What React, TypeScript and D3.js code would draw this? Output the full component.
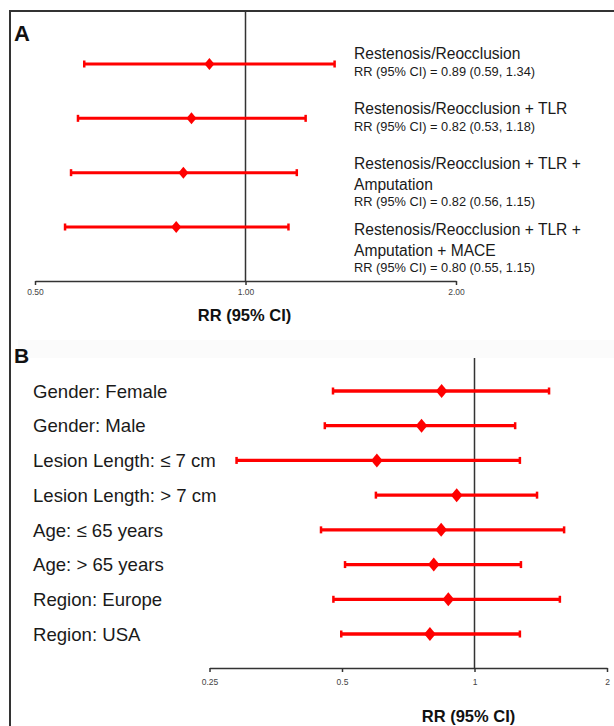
import React, { useEffect, useRef } from "react";
import * as d3 from "d3";

// Panel A: composite outcomes
const outcomeTitles = [
  ["Restenosis/Reocclusion"],
  ["Restenosis/Reocclusion + TLR"],
  ["Restenosis/Reocclusion + TLR +", "Amputation"],
  ["Restenosis/Reocclusion + TLR +", "Amputation + MACE"],
];
const outcomeNotes = [
  "RR (95% CI) = 0.89 (0.59, 1.34)",
  "RR (95% CI) = 0.82 (0.53, 1.18)",
  "RR (95% CI) = 0.82 (0.56, 1.15)",
  "RR (95% CI) = 0.80 (0.55, 1.15)",
];
// values as drawn in the picture
const outcomeEst = [0.888, 0.837, 0.815, 0.796];
const outcomeLo = [0.588, 0.576, 0.563, 0.552];
const outcomeHi = [1.341, 1.219, 1.184, 1.152];
const ticksA = [0.5, 1, 2];
const tickLabelsA = ["0.50", "1.00", "2.00"];

// Panel B: subgroups
const subgroups = [
  "Gender: Female",
  "Gender: Male",
  "Lesion Length: \u2264 7 cm",
  "Lesion Length: > 7 cm",
  "Age: \u2264 65 years",
  "Age: > 65 years",
  "Region: Europe",
  "Region: USA",
];
const subEst = [0.842, 0.758, 0.6, 0.911, 0.84, 0.808, 0.872, 0.792];
const subLo = [0.477, 0.457, 0.288, 0.597, 0.448, 0.508, 0.478, 0.498];
const subHi = [1.477, 1.237, 1.268, 1.387, 1.598, 1.275, 1.563, 1.268];
const ticksB = [0.25, 0.5, 1, 2];
const tickLabelsB = ["0.25", "0.5", "1", "2"];

const RED = "#ff0000";
const INK = "#333";
const FONT = "'Liberation Sans', Arial, sans-serif";

const App: React.FC = () => {
  const ref = useRef<SVGSVGElement>(null);

  useEffect(() => {
    document.body.style.margin = "0";
    const svg = d3.select(ref.current);
    svg.selectAll("*").remove();

    // faint band at the top of panel B
    svg
      .append("rect")
      .attr("x", 18)
      .attr("y", 340)
      .attr("width", 596)
      .attr("height", 18)
      .attr("fill", "#fbfbfb");

    // frame
    svg
      .append("path")
      .attr("d", "M614,11H10V726")
      .attr("fill", "none")
      .attr("stroke", INK)
      .attr("stroke-width", 2);

    // ---------- Panel A ----------
    const xA = d3.scaleLog().base(2).domain([0.5, 2]).range([35, 456]);
    const yA = d3
      .scalePoint<number>()
      .domain(d3.range(outcomeTitles.length))
      .range([64, 227]);
    const axisYA = 281;

    const gA = svg.append("g");
    gA.append("text")
      .attr("x", 14)
      .attr("y", 41)
      .attr("font-family", FONT)
      .attr("font-weight", "bold")
      .attr("font-size", 22)
      .attr("fill", "#111")
      .text("A");

    gA.append("line")
      .attr("x1", xA(1))
      .attr("x2", xA(1))
      .attr("y1", 11)
      .attr("y2", axisYA)
      .attr("stroke", INK)
      .attr("stroke-width", 1.5);

    const axA = gA
      .append("g")
      .attr("transform", `translate(0,${axisYA})`)
      .call(
        d3
          .axisBottom(xA)
          .tickValues(ticksA)
          .tickSize(4)
          .tickSizeOuter(0)
          .tickPadding(4)
          .tickFormat((_, i) => tickLabelsA[i])
      );
    axA.select(".domain").attr("stroke", INK).attr("stroke-width", 1.5);
    axA.selectAll(".tick line").attr("stroke", INK).attr("stroke-width", 1.5);
    axA
      .selectAll(".tick text")
      .attr("font-family", FONT)
      .attr("font-size", 8.5)
      .attr("fill", "#444");

    gA.append("text")
      .attr("x", 244.5)
      .attr("y", 321)
      .attr("text-anchor", "middle")
      .attr("font-family", FONT)
      .attr("font-weight", "bold")
      .attr("font-size", 16.5)
      .attr("fill", "#111")
      .text("RR (95% CI)");

    const rowsA = gA
      .selectAll("g.row")
      .data(outcomeTitles.map((_, i) => i))
      .enter()
      .append("g")
      .attr("class", "row");

    rowsA
      .append("line")
      .attr("x1", (i) => xA(outcomeLo[i]))
      .attr("x2", (i) => xA(outcomeHi[i]))
      .attr("y1", (i) => yA(i)!)
      .attr("y2", (i) => yA(i)!)
      .attr("stroke", RED)
      .attr("stroke-width", 3);
    [outcomeLo, outcomeHi].forEach((arr) => {
      rowsA
        .append("line")
        .attr("x1", (i) => xA(arr[i]))
        .attr("x2", (i) => xA(arr[i]))
        .attr("y1", (i) => yA(i)! - 3.5)
        .attr("y2", (i) => yA(i)! + 3.5)
        .attr("stroke", RED)
        .attr("stroke-width", 2.5);
    });
    rowsA
      .append("path")
      .attr("transform", (i) => `translate(${xA(outcomeEst[i])},${yA(i)})`)
      .attr("d", "M0,-6L5,0L0,6L-5,0Z")
      .attr("fill", RED);

    // text blocks next to each row
    const textStart = [-5, -4.5, -4, 8];
    rowsA.each(function (i) {
      const g = d3.select(this);
      let y = yA(i)! + textStart[i];
      outcomeTitles[i].forEach((t, k) => {
        if (k > 0) y += 21;
        g.append("text")
          .attr("x", 354)
          .attr("y", y)
          .attr("font-family", FONT)
          .attr("font-size", 15.6)
          .attr("fill", "#1a1a1a")
          .text(t);
      });
      g.append("text")
        .attr("x", 354)
        .attr("y", y + (outcomeTitles[i].length > 1 ? 16 : 17))
        .attr("font-family", FONT)
        .attr("font-size", 12.8)
        .attr("fill", "#1a1a1a")
        .text(outcomeNotes[i]);
    });

    // ---------- Panel B ----------
    const xB = d3.scaleLog().base(2).domain([0.25, 2]).range([209.5, 607]);
    const yB = d3
      .scalePoint<number>()
      .domain(d3.range(subgroups.length))
      .range([391, 634]);
    const axisYB = 668;

    const gB = svg.append("g");
    gB.append("text")
      .attr("x", 14)
      .attr("y", 363)
      .attr("font-family", FONT)
      .attr("font-weight", "bold")
      .attr("font-size", 21)
      .attr("fill", "#111")
      .text("B");

    gB.append("line")
      .attr("x1", xB(1))
      .attr("x2", xB(1))
      .attr("y1", 358)
      .attr("y2", axisYB)
      .attr("stroke", INK)
      .attr("stroke-width", 1.5);

    const axB = gB
      .append("g")
      .attr("transform", `translate(0,${axisYB})`)
      .call(
        d3
          .axisBottom(xB)
          .tickValues(ticksB)
          .tickSize(4)
          .tickSizeOuter(0)
          .tickPadding(7)
          .tickFormat((_, i) => tickLabelsB[i])
      );
    axB.select(".domain").attr("stroke", INK).attr("stroke-width", 1.5);
    axB.selectAll(".tick line").attr("stroke", INK).attr("stroke-width", 1.5);
    axB
      .selectAll(".tick text")
      .attr("font-family", FONT)
      .attr("font-size", 8.5)
      .attr("fill", "#444");

    gB.append("text")
      .attr("x", 468.5)
      .attr("y", 722)
      .attr("text-anchor", "middle")
      .attr("font-family", FONT)
      .attr("font-weight", "bold")
      .attr("font-size", 16.5)
      .attr("fill", "#111")
      .text("RR (95% CI)");

    const rowsB = gB
      .selectAll("g.row")
      .data(subgroups.map((_, i) => i))
      .enter()
      .append("g")
      .attr("class", "row");

    rowsB
      .append("text")
      .attr("x", 33)
      .attr("y", (i) => yB(i)!)
      .attr("dy", "0.36em")
      .attr("font-family", FONT)
      .attr("font-size", 18.6)
      .attr("fill", "#1a1a1a")
      .text((i) => subgroups[i]);

    rowsB
      .append("line")
      .attr("x1", (i) => xB(subLo[i]))
      .attr("x2", (i) => xB(subHi[i]))
      .attr("y1", (i) => yB(i)!)
      .attr("y2", (i) => yB(i)!)
      .attr("stroke", RED)
      .attr("stroke-width", 3.3);
    [subLo, subHi].forEach((arr) => {
      rowsB
        .append("line")
        .attr("x1", (i) => xB(arr[i]))
        .attr("x2", (i) => xB(arr[i]))
        .attr("y1", (i) => yB(i)! - 3.5)
        .attr("y2", (i) => yB(i)! + 3.5)
        .attr("stroke", RED)
        .attr("stroke-width", 2.5);
    });
    rowsB
      .append("path")
      .attr("transform", (i) => `translate(${xB(subEst[i])},${yB(i)})`)
      .attr("d", "M0,-7L5.8,0L0,7L-5.8,0Z")
      .attr("fill", RED);
  }, []);

  return (
    <svg
      ref={ref}
      width={614}
      height={726}
      style={{ display: "block", background: "#fff" }}
    ></svg>
  );
};

export default App;
